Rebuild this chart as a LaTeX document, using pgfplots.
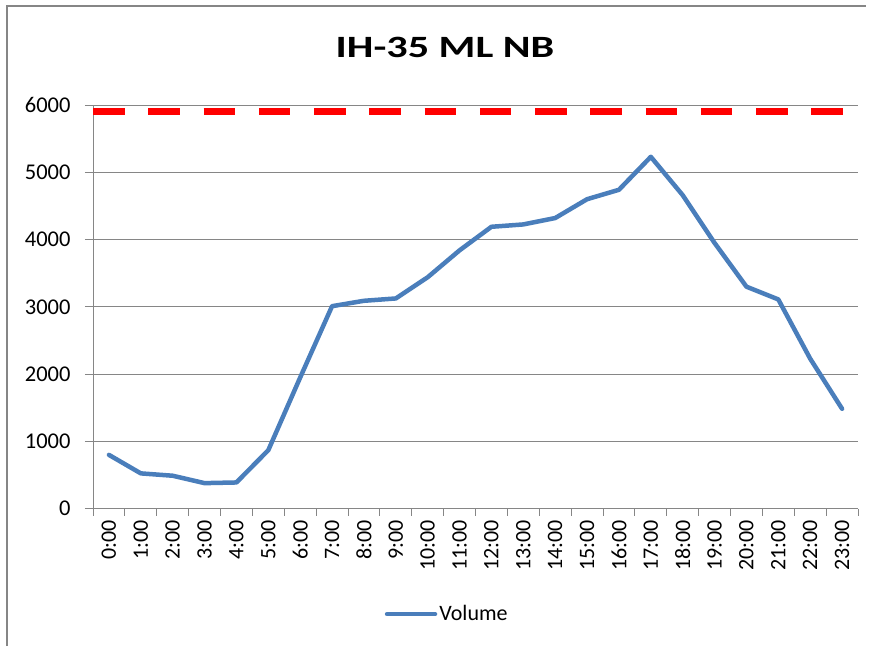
\documentclass[border=0pt]{standalone}
\usepackage{pgfplots}
\pgfplotsset{compat=1.18}
\usepackage{pgfplotstable}
\usepackage{fontspec}
\setmainfont{Carlito}
\definecolor{axgray}{HTML}{868686}
\definecolor{vblue}{HTML}{4A7EBB}
\pgfplotstableread{
x y
0 800
1 525
2 490
3 380
4 390
5 870
6 1950
7 3010
8 3090
9 3125
10 3440
11 3840
12 4190
13 4225
14 4320
15 4600
16 4740
17 5230
18 4660
19 3950
20 3300
21 3110
22 2230
23 1485
}\voltable
\begin{document}
\begin{tikzpicture}[x=1pt,y=1pt]
\useasboundingbox (0,0) rectangle (873,646);
\draw[axgray, line width=2pt] (7,0) -- (7,640) -- (866,640);
\node[font=\fontsize{31}{37}\selectfont\bfseries, xscale=1.36] at (445,599) {IH-35 ML NB};
\begin{axis}[
  at={(93pt,137.3pt)}, anchor=south west,
  scale only axis, width=765pt, height=403.7pt,
  xmin=-0.5, xmax=23.5, ymin=0, ymax=6000,
  axis lines=left, axis line style={-, draw=axgray, line width=1pt},
  ytick={0,1000,...,6000},
  ymajorgrids, grid style={axgray, line width=1pt},
  xtick={0,...,23},
  xticklabels={0:00,1:00,2:00,3:00,4:00,5:00,6:00,7:00,8:00,9:00,10:00,11:00,12:00,13:00,14:00,15:00,16:00,17:00,18:00,19:00,20:00,21:00,22:00,23:00},
  minor xtick={-0.5,0.5,...,23.5},
  major x tick style={draw=none},
  minor x tick style={draw=axgray, line width=1pt},
  y tick style={draw=axgray, line width=1pt},
  tick align=outside, major tick length=8pt, minor tick length=7pt,
  scaled ticks=false,
  /pgf/number format/.cd, 1000 sep={}, assume math mode=true, /pgfplots/.cd,
  xticklabel style={rotate=90, anchor=east, font=\fontsize{22}{26}\selectfont},
  yticklabel style={font=\fontsize{22.5}{26}\selectfont, xshift=-11pt},
  legend style={at={(0.463,-0.261)}, anchor=center, draw=none, font=\fontsize{22}{26}\selectfont},
  legend image code/.code={\draw[#1] (0pt,0pt) -- (48pt,0pt);},
]
\addplot[red, line width=7pt, line cap=butt, dash pattern=on 31.5pt off 23.75pt, forget plot] coordinates {(-0.5,5910) (23.06,5910)};
\addplot[vblue, line width=4.5pt, line join=round, line cap=round] table[x=x,y=y] {\voltable};
\addlegendentry{Volume}
\end{axis}
\end{tikzpicture}
\end{document}
